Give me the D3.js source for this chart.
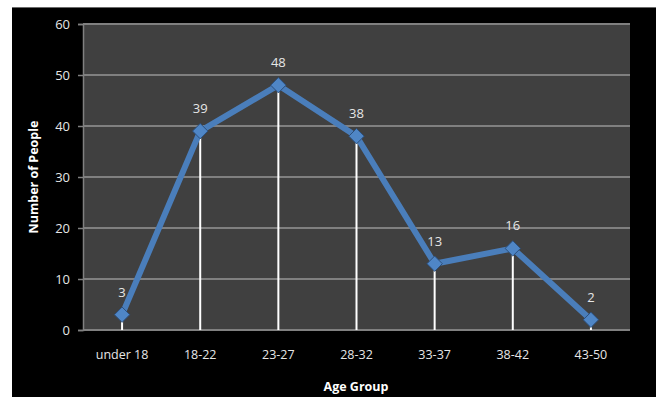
<!DOCTYPE html>
<html>
<head>
<meta charset="utf-8">
<script src="https://cdn.jsdelivr.net/npm/d3@7"></script>
<style>
  html, body { margin: 0; padding: 0; background: #fff; }
  svg { display: block; }
  text { font-family: "Open Sans", "Noto Sans", sans-serif; }
</style>
</head>
<body>
<svg id="chart" width="656" height="397"></svg>
<script>
// Age distribution of respondents
const categories = ["under 18", "18-22", "23-27", "28-32", "33-37", "38-42", "43-50"];
const counts = [3, 39, 48, 38, 13, 16, 2];
const yTicks = [0, 10, 20, 30, 40, 50, 60];

const svg = d3.select("#chart");
const W = 656, H = 397;
const plot = { left: 83, right: 630, top: 24, bottom: 330 };

// chart frame
svg.append("rect").attr("x", 12).attr("y", 7).attr("width", W - 12).attr("height", H - 7)
  .attr("fill", "#000");
svg.append("line").attr("x1", 12).attr("x2", W).attr("y1", 7.5).attr("y2", 7.5)
  .attr("stroke", "#6a6a6a").attr("stroke-width", 1);

const x = d3.scaleBand().domain(categories).range([plot.left, plot.right]);
const y = d3.scaleLinear().domain([0, 60]).range([plot.bottom, plot.top]);

// plot area
svg.append("rect").attr("x", plot.left).attr("y", plot.top)
  .attr("width", plot.right - plot.left).attr("height", plot.bottom - plot.top)
  .attr("fill", "#404040");

// horizontal gridlines
svg.append("g").selectAll("line").data(yTicks).join("line")
  .attr("x1", plot.left).attr("x2", plot.right)
  .attr("y1", d => y(d)).attr("y2", d => y(d))
  .attr("stroke", "#808080").attr("stroke-width", 2);

// y axis
const yAxis = svg.append("g").attr("transform", `translate(${plot.left},0)`)
  .call(d3.axisLeft(y).tickValues(yTicks).tickSize(5).tickPadding(8));
yAxis.select(".domain").attr("stroke", "#808080").attr("stroke-width", 1.5);
yAxis.selectAll(".tick line").attr("stroke", "#808080").attr("stroke-width", 1.5);
yAxis.selectAll(".tick text").attr("fill", "#e6e6e6").attr("font-size", 13);

// x axis labels
const xAxis = svg.append("g").attr("transform", `translate(0,${plot.bottom})`)
  .call(d3.axisBottom(x).tickSize(0).tickPadding(20));
xAxis.select(".domain").remove();
xAxis.selectAll(".tick text").attr("fill", "#e6e6e6").attr("font-size", 12.5);

const cx = d => x(d) + x.bandwidth() / 2;

// drop lines
svg.append("g").selectAll("line").data(categories).join("line")
  .attr("x1", cx).attr("x2", cx)
  .attr("y1", (d, i) => y(counts[i])).attr("y2", plot.bottom)
  .attr("stroke", "#fff").attr("stroke-width", 2);

// series line
const line = d3.line().x((d, i) => cx(categories[i])).y(d => y(d));
svg.append("path").datum(counts).attr("d", line)
  .attr("fill", "none").attr("stroke", "#4a7ebb").attr("stroke-width", 6)
  .attr("stroke-linejoin", "round");

// diamond markers
const diamond = d3.symbol().type(d3.symbolDiamond2).size(150);
svg.append("g").selectAll("path").data(counts).join("path")
  .attr("d", diamond)
  .attr("transform", (d, i) => `translate(${cx(categories[i])},${y(d)})`)
  .attr("fill", "#4f86c6").attr("stroke", "#2c4f7c").attr("stroke-width", 1);

// value labels
svg.append("g").selectAll("text").data(counts).join("text")
  .attr("x", (d, i) => cx(categories[i]))
  .attr("y", d => y(d) - 18)
  .attr("text-anchor", "middle")
  .attr("fill", "#e6e6e6").attr("font-size", 13)
  .text(d => d);

// axis titles
svg.append("text").attr("x", 356).attr("y", 391).attr("text-anchor", "middle")
  .attr("fill", "#fff").attr("font-size", 12.5).attr("font-weight", "bold")
  .text("Age Group");
svg.append("text").attr("transform", "translate(38,177) rotate(-90)")
  .attr("text-anchor", "middle")
  .attr("fill", "#fff").attr("font-size", 12.5).attr("font-weight", "bold")
  .text("Number of People");
</script>
</body>
</html>
